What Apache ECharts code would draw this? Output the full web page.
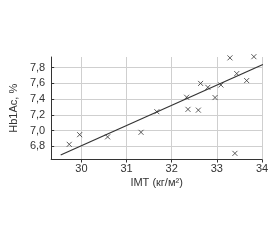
<!DOCTYPE html>
<html><head><meta charset="utf-8">
<script src="https://cdn.jsdelivr.net/npm/echarts@6/dist/echarts.min.js"></script>
<style>html,body{margin:0;padding:0;background:#fff}#c{width:280px;height:240px}</style>
</head><body><div id="c"></div>
<script>
const imtValues = [29.73, 29.96, 30.58, 31.32, 31.67, 32.33, 32.36, 32.59, 32.64, 32.80, 32.96, 33.09, 33.29, 33.40, 33.44, 33.66, 33.82];
const hbValues  = [6.825, 6.948, 6.92, 6.978, 7.24, 7.424, 7.27, 7.26, 7.60, 7.55, 7.42, 7.58, 7.925, 6.71, 7.725, 7.636, 7.94];
const trendX = [29.54, 34.02];
const trendY = [6.69, 7.84];
const xTicks = [30, 31, 32, 33, 34];
const yTicks = [6.8, 7.0, 7.2, 7.4, 7.6, 7.8];

const cross = 'path://M0,0L10,10M10,0L0,10';
const chart = echarts.init(document.getElementById('c'), null, {renderer: 'canvas'});
chart.setOption({
  animation: false,
  grid: {left: 37, right: 18, top: 57, bottom: 80.5, containLabel: false},
  xAxis: {
    type: 'value', min: 29.33, max: 34.0,
    name: 'IMT (кг/м²)', nameLocation: 'middle', nameGap: 18,
    nameTextStyle: {fontFamily: 'Liberation Sans', fontSize: 11, color: '#333'},
    axisLine: {show: true, lineStyle: {color: '#333', width: 1}},
    axisTick: {show: true, customValues: xTicks, length: 3, lineStyle: {color: '#333'}},
    axisLabel: {customValues: xTicks, fontFamily: 'Liberation Sans', fontSize: 11, color: '#333', margin: 4},
    splitLine: {show: true, lineStyle: {color: '#cfcfcf', width: 1}}
  },
  yAxis: {
    type: 'value', min: 6.632, max: 7.936,
    name: 'Hb1Ac, %', nameLocation: 'middle', nameGap: 30, nameRotate: 90,
    nameTextStyle: {fontFamily: 'Liberation Sans', fontSize: 11, color: '#333'},
    axisLine: {show: true, lineStyle: {color: '#333', width: 1}},
    axisTick: {show: true, inside: true, customValues: yTicks, length: 3, lineStyle: {color: '#333'}},
    axisLabel: {customValues: yTicks, fontFamily: 'Liberation Sans', fontSize: 11, color: '#333', margin: 6,
      formatter: v => v.toFixed(1).replace('.', ',')},
    splitLine: {show: true, lineStyle: {color: '#cfcfcf', width: 1}}
  },
  series: [
    {type: 'line', data: trendX.map((x, i) => [x, trendY[i]]), symbol: 'none',
     lineStyle: {color: '#333', width: 1.2}, clip: false, silent: true},
    {type: 'scatter', data: imtValues.map((x, i) => [x, hbValues[i]]), symbol: cross, symbolSize: 5,
     itemStyle: {color: 'none', borderColor: '#333', borderWidth: 1}, clip: false}
  ]
});
</script></body></html>
